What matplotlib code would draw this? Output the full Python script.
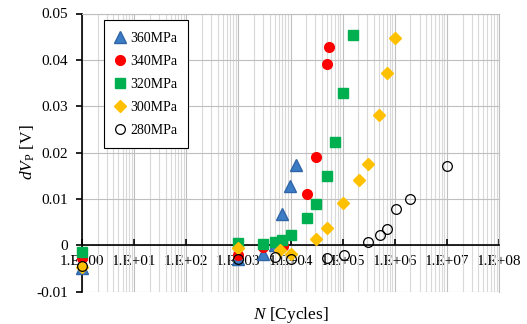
import numpy as np
import matplotlib
matplotlib.use("Agg")
import matplotlib.pyplot as plt
from matplotlib.ticker import LogLocator, FixedLocator, FuncFormatter, NullFormatter

plt.rcParams['font.family'] = ['Liberation Serif', 'DejaVu Serif']
plt.rcParams['mathtext.fontset'] = 'custom'
plt.rcParams['mathtext.rm'] = 'Liberation Serif'
plt.rcParams['mathtext.it'] = 'Liberation Serif:italic'

# data: N [cycles], dVp [V]
n_360 = [1, 1000, 3000, 5000, 6900, 9700, 13000]
v_360 = [-0.0048, -0.003, -0.0018, 0.0000, 0.0068, 0.0127, 0.0173]

n_340 = [1, 1000, 3000, 7200, 20400, 31000, 50800, 54600]
v_340 = [-0.0028, -0.0020, -0.0004, -0.0001, 0.0110, 0.0191, 0.0392, 0.0428]

n_320 = [1, 1000, 3000, 5100, 6900, 10000, 20400, 31000, 50500, 71000, 101000, 158000]
v_320 = [-0.0015, 0.0004, 0.0002, 0.0007, 0.0012, 0.0022, 0.0058, 0.0090, 0.0150, 0.0223, 0.0329, 0.0454]

n_300 = [1, 1000, 6200, 10000, 31000, 50500, 101000, 205000, 310000, 500000, 700000, 1010000]
v_300 = [-0.0047, -0.0005, -0.0009, -0.0018, 0.0014, 0.0038, 0.0091, 0.0140, 0.0176, 0.0281, 0.0371, 0.0448]

n_280 = [1, 1000, 5100, 10000, 50500, 105000, 310000, 510000, 720000, 1050000, 2000000, 10000000]
v_280 = [-0.0045, -0.0030, -0.0025, -0.0029, -0.0027, -0.0020, 0.0007, 0.0023, 0.0036, 0.0079, 0.0099, 0.0171]

fig = plt.figure(figsize=(5.27, 3.24), dpi=100)
ax = fig.add_axes([82/527, (324-291.7)/324, (499-82)/527, (291.7-13.5)/324])

ax.set_xscale('log')
ax.set_xlim(1, 1e8)
ax.set_ylim(-0.01, 0.05)

# grid
ax.xaxis.set_major_locator(LogLocator(base=10, numticks=20))
ax.xaxis.set_minor_locator(LogLocator(base=10, subs=np.arange(2, 10), numticks=100))
ax.xaxis.set_minor_formatter(NullFormatter())
ax.yaxis.set_major_locator(FixedLocator([-0.01, 0, 0.01, 0.02, 0.03, 0.04, 0.05]))
ax.grid(True, which='major', axis='both', color='#BFBFBF', lw=0.8, zorder=0)
ax.grid(True, which='minor', axis='x', color='#D9D9D9', lw=0.8, zorder=0)
ax.set_axisbelow(True)

# spines
ax.spines['bottom'].set_position(('data', 0))
ax.spines['bottom'].set_color('black')
ax.spines['bottom'].set_linewidth(1.2)
ax.spines['left'].set_color('black')
ax.spines['left'].set_linewidth(1.2)
ax.spines['top'].set_color('#BFBFBF')
ax.spines['right'].set_color('#BFBFBF')
ax.spines['top'].set_linewidth(0.8)
ax.spines['right'].set_linewidth(0.8)

ax.tick_params(axis='x', which='major', direction='in', length=4, width=1.2, pad=7, labelsize=11)
ax.tick_params(axis='x', which='minor', length=0)
ax.tick_params(axis='y', which='major', direction='out', length=4, width=1.2, pad=6, labelsize=11)

ax.xaxis.set_major_formatter(FuncFormatter(lambda v, p: '1.E+%02d' % int(round(np.log10(v)))))
ax.yaxis.set_major_formatter(FuncFormatter(lambda v, p: '0' if abs(v) < 1e-9 else '%.2f' % v))

ax.plot(n_360, v_360, ls='none', marker='^', ms=8, mfc='#3C7CC4', mec='#2E64A8', label='360MPa', zorder=3, clip_on=False)
ax.plot(n_340, v_340, ls='none', marker='o', ms=7, mfc='#FF0000', mec='#FF0000', label='340MPa', zorder=3, clip_on=False)
ax.plot(n_320, v_320, ls='none', marker='s', ms=6.5, mfc='#00B050', mec='#00B050', label='320MPa', zorder=3, clip_on=False)
ax.plot(n_300, v_300, ls='none', marker='D', ms=6, mfc='#FFC000', mec='#FFC000', label='300MPa', zorder=3, clip_on=False)
ax.plot(n_280, v_280, ls='none', marker='o', ms=7, mfc='none', mec='black', mew=0.9, label='280MPa', zorder=3, clip_on=False)

leg = ax.legend(loc='upper left', bbox_to_anchor=(0.052, 0.975), fontsize=10, frameon=True,
                fancybox=False, edgecolor='black', framealpha=1, handlelength=0.8,
                handletextpad=0.3, labelspacing=0.72, borderpad=0.8, borderaxespad=0)
leg.get_frame().set_linewidth(0.8)

ax.set_xlabel(r'$N$ [Cycles]', fontsize=12.5)
ax.xaxis.set_label_coords(0.5, -0.085)
ax.xaxis.label.set_va('center')
ax.set_ylabel(r'$dV_{\mathrm{P}}$ [V]', fontsize=12.5)
ax.yaxis.set_label_coords(-0.13, 0.5)
ax.yaxis.label.set_va('center')

fig.savefig('out.png', dpi=100)
